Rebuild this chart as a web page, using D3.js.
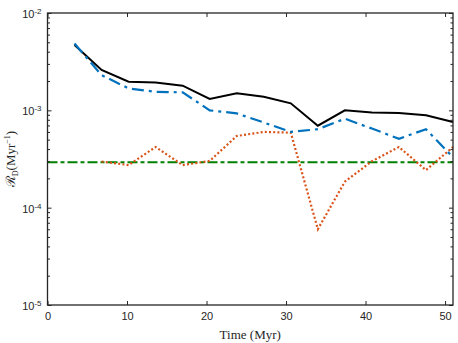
<!DOCTYPE html>
<html>
<head>
<meta charset="utf-8">
<script src="https://cdn.jsdelivr.net/npm/d3@7"></script>
<style>
  body { margin: 0; background: #fff; }
  .tick text { font-family: "Liberation Sans", Arial, sans-serif; font-size: 11px; fill: #262626; }
  .axisText { font-family: "Liberation Serif", "DejaVu Serif", serif; font-size: 13px; fill: #262626; }
</style>
</head>
<body>
<div class="chart"></div>
<script>
var svgWidth = 458;
var svgHeight = 343;

var margin = { top: 13, right: 5, bottom: 38, left: 47.5 };
var width = svgWidth - margin.left - margin.right;
var height = svgHeight - margin.top - margin.bottom;

// data
var time = [3.4, 6.8, 10.2, 13.6, 17, 20.4, 23.8, 27.2, 30.6, 34, 37.4, 40.8, 44.2, 47.6, 51];
var totalRate = [4.7e-3, 2.6e-3, 1.97e-3, 1.93e-3, 1.79e-3, 1.31e-3, 1.5e-3, 1.38e-3, 1.18e-3, 6.95e-4, 1.0e-3, 9.5e-4, 9.4e-4, 8.9e-4, 7.6e-4];
var blueRate = [4.85e-3, 2.3e-3, 1.68e-3, 1.55e-3, 1.53e-3, 1.0e-3, 9.3e-4, 7.5e-4, 6.0e-4, 6.4e-4, 8.2e-4, 6.5e-4, 5.1e-4, 6.4e-4, 3.3e-4];
var redTime = [6.8, 10.2, 13.6, 17, 20.4, 23.8, 27.2, 30.6, 34, 37.4, 40.8, 44.2, 47.6, 51];
var redRate = [2.98e-4, 2.74e-4, 4.2e-4, 2.74e-4, 3.02e-4, 5.45e-4, 6.0e-4, 5.9e-4, 6.0e-5, 1.85e-4, 3.0e-4, 4.2e-4, 2.43e-4, 4.2e-4];
var greenTime = [0, 51];
var greenRate = [2.92e-4, 2.92e-4];

var xTicks = [0, 10, 20, 30, 40, 50];
var yTicks = [1e-5, 1e-4, 1e-3, 1e-2];

var svg = d3.select(".chart")
  .append("svg")
  .attr("width", svgWidth)
  .attr("height", svgHeight);

var chart = svg.append("g")
  .attr("transform", "translate(" + margin.left + "," + margin.top + ")");

var xLinearScale = d3.scaleLinear().domain([0, 51]).range([0, width]);
var yLogScale = d3.scaleLog().domain([1e-5, 1e-2]).range([height, 0]);

// minor ticks for the log axis
var minorTicks = [];
yTicks.slice(0, 3).forEach(function(d) {
  for (var k = 2; k <= 9; k++) minorTicks.push(d * k);
});

// lines
var line = d3.line()
  .x(function(d) { return xLinearScale(d[0]); })
  .y(function(d) { return yLogScale(d[1]); });

var plot = chart.append("g");

plot.append("path")
  .datum(d3.zip(greenTime, greenRate))
  .attr("d", line)
  .attr("fill", "none")
  .attr("stroke", "#008000")
  .attr("stroke-width", 2)
  .attr("stroke-dasharray", "10,3,4,3");

plot.append("path")
  .datum(d3.zip(redTime, redRate))
  .attr("d", line)
  .attr("fill", "none")
  .attr("stroke", "#D95319")
  .attr("stroke-width", 2.2)
  .attr("stroke-dasharray", "2,2.2");

plot.append("path")
  .datum(d3.zip(time, totalRate))
  .attr("d", line)
  .attr("fill", "none")
  .attr("stroke", "#000")
  .attr("stroke-width", 2);

plot.append("path")
  .datum(d3.zip(time, blueRate))
  .attr("d", line)
  .attr("fill", "none")
  .attr("stroke", "#0072BD")
  .attr("stroke-width", 2.2)
  .attr("stroke-dasharray", "12,5,3,5");

// axes
var bottomAxis = d3.axisBottom(xLinearScale).tickValues(xTicks).tickSizeInner(-4).tickSizeOuter(0).tickPadding(7);
var topAxis = d3.axisTop(xLinearScale).tickValues(xTicks).tickSizeInner(-4).tickSizeOuter(0).tickFormat("");
var leftAxis = d3.axisLeft(yLogScale).tickValues(yTicks).tickSizeInner(-4).tickSizeOuter(0).tickFormat("");
var rightAxis = d3.axisRight(yLogScale).tickValues(yTicks).tickSizeInner(-4).tickSizeOuter(0).tickFormat("");
var leftMinor = d3.axisLeft(yLogScale).tickValues(minorTicks).tickSizeInner(-2.5).tickSizeOuter(0).tickFormat("");
var rightMinor = d3.axisRight(yLogScale).tickValues(minorTicks).tickSizeInner(-2.5).tickSizeOuter(0).tickFormat("");

chart.append("g").attr("transform", "translate(0," + height + ")").call(bottomAxis);
chart.append("g").call(topAxis);
var gLeft = chart.append("g").call(leftAxis);
chart.append("g").attr("transform", "translate(" + width + ",0)").call(rightAxis);
chart.append("g").call(leftMinor);
chart.append("g").attr("transform", "translate(" + width + ",0)").call(rightMinor);

chart.selectAll(".domain").remove();
chart.selectAll(".tick line").attr("stroke", "#262626").attr("stroke-width", 1);

// y tick labels 10^n
gLeft.selectAll(".tick").each(function(d) {
  var t = d3.select(this).append("text")
    .attr("x", -6)
    .attr("dy", "0.4em")
    .attr("text-anchor", "end")
    .attr("fill", "#262626");
  t.append("tspan").text("10");
  t.append("tspan").attr("dy", "-0.5em").attr("font-size", "8px").text(String(Math.round(Math.log10(d))));
});

// frame
chart.append("rect")
  .attr("width", width)
  .attr("height", height)
  .attr("fill", "none")
  .attr("stroke", "#262626")
  .attr("stroke-width", 1.3);

// axis labels
chart.append("text")
  .attr("class", "axisText")
  .attr("x", width / 2)
  .attr("y", height + 34)
  .attr("text-anchor", "middle")
  .text("Time (Myr)");

var yLabel = chart.append("text")
  .attr("class", "axisText")
  .attr("transform", "translate(" + (-33) + "," + (height / 2) + ") rotate(-90)")
  .attr("text-anchor", "middle");
yLabel.append("tspan").attr("font-size", "13px").text("\u211B");
yLabel.append("tspan").attr("dy", "3").attr("font-size", "8px").text("D");
yLabel.append("tspan").attr("dy", "-3").text("(Myr");
yLabel.append("tspan").attr("dy", "-5").attr("font-size", "8px").text("\u22121");
yLabel.append("tspan").attr("dy", "5").text(")");
</script>
</body>
</html>
